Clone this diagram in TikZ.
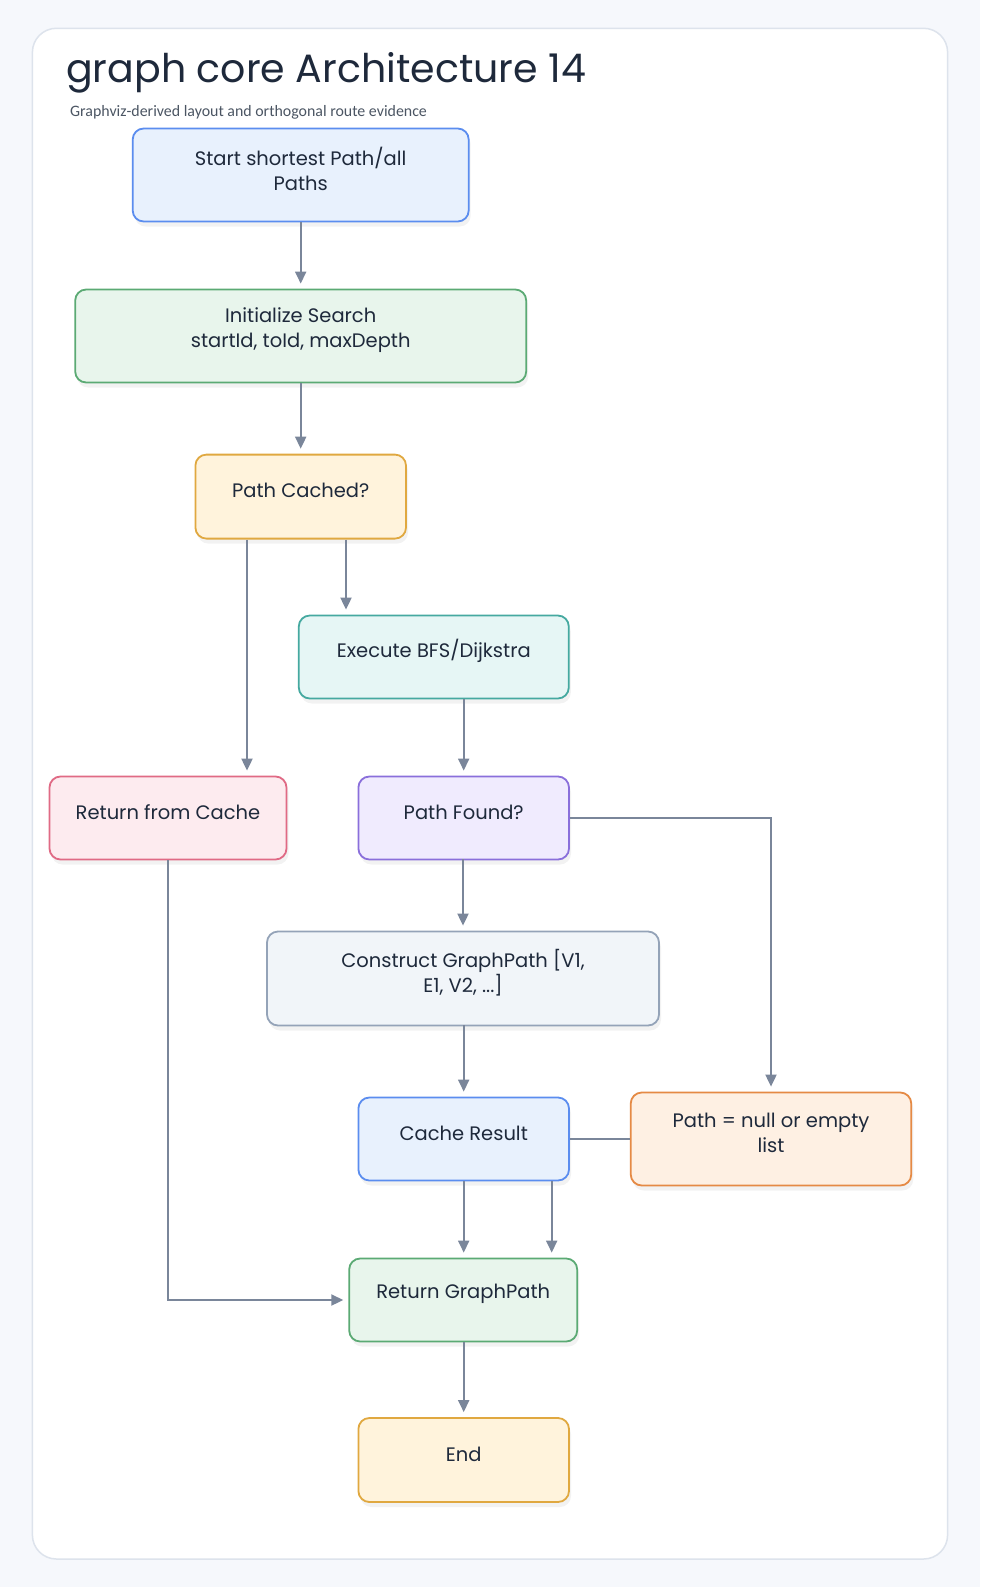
\documentclass[tikz,border=0pt]{standalone}
\usepackage{fontspec}
\setmainfont{Poppins}
\newfontfamily\subfont{Carlito}
\usetikzlibrary{arrows.meta,shadows}
\definecolor{bgc}{HTML}{F6F8FC}
\definecolor{panelb}{HTML}{DDE3EC}
\definecolor{txt}{HTML}{1E293B}
\definecolor{subtxt}{HTML}{4B5563}
\definecolor{edgec}{HTML}{7A869A}
\definecolor{bluef}{HTML}{E8F1FD}\definecolor{blued}{HTML}{5B8DEF}
\definecolor{greenf}{HTML}{E8F5EC}\definecolor{greend}{HTML}{5BAA74}
\definecolor{yelf}{HTML}{FFF3DC}\definecolor{yeld}{HTML}{E0A840}
\definecolor{tealf}{HTML}{E6F6F5}\definecolor{teald}{HTML}{45A9A0}
\definecolor{redf}{HTML}{FDEBEF}\definecolor{redd}{HTML}{E06A85}
\definecolor{purf}{HTML}{F0EBFE}\definecolor{purd}{HTML}{8A6FDB}
\definecolor{grayf}{HTML}{F1F5F9}\definecolor{grayd}{HTML}{94A3B8}
\definecolor{oraf}{HTML}{FEF0E3}\definecolor{orad}{HTML}{E58A45}
\tikzset{
  box/.style={draw, line width=1.8pt, rounded corners=11pt, inner sep=0pt,
    drop shadow={shadow xshift=2pt, shadow yshift=-5pt, opacity=0.05, fill=black}},
  lbl/.style={text=txt, font=\fontsize{19.5}{24.5}\selectfont, align=center, yshift=6pt},
  arr/.style={draw=edgec, line width=1.9pt, -{Triangle[length=12pt,width=11pt]}, shorten >=5pt},
  lnk/.style={draw=edgec, line width=1.9pt}
}
\begin{document}
\begin{tikzpicture}[x=1pt,y=-1pt]
\useasboundingbox (0,0) rectangle (980,1587);
\fill[bgc] (0,0) rectangle (980,1587);
\draw[panelb, line width=1.5pt, fill=white, rounded corners=24pt] (32.4,28.3) rectangle (947.6,1559);
\node[anchor=west, text=txt, font=\fontsize{39.5}{42}\selectfont, inner sep=0pt] (title) at (66,73) {graph core Architecture 14};
\node[anchor=west, text=subtxt, font=\subfont\fontsize{15.9}{17}\selectfont, inner sep=0pt] (subtitle) at (70,112.5) {Graphviz-derived layout and orthogonal route evidence};

\node[box, fill=bluef, draw=blued, minimum width=336pt, minimum height=93pt] (start) at (300.7,175) {};
\node[lbl] (startt) at (start.center) {Start shortest Path/all\\Paths};
\node[box, fill=greenf, draw=greend, minimum width=451pt, minimum height=93pt] (init) at (300.7,336) {};
\node[lbl] (initt) at (init.center) {Initialize Search\\startId, toId, maxDepth};
\node[box, fill=yelf, draw=yeld, minimum width=210.6pt, minimum height=84pt] (cached) at (300.7,496.6) {};
\node[lbl] (cachedt) at (cached.center) {Path Cached?};
\node[box, fill=tealf, draw=teald, minimum width=270pt, minimum height=83pt] (exec) at (433.8,657) {};
\node[lbl] (exect) at (exec.center) {Execute BFS/Dijkstra};
\node[box, fill=redf, draw=redd, minimum width=237pt, minimum height=83pt] (rfc) at (168,818) {};
\node[lbl] (rfct) at (rfc.center) {Return from Cache};
\node[box, fill=purf, draw=purd, minimum width=210.6pt, minimum height=83pt] (found) at (463.7,818) {};
\node[lbl] (foundt) at (found.center) {Path Found?};
\node[box, fill=grayf, draw=grayd, minimum width=392pt, minimum height=94pt] (constr) at (463,978.5) {};
\node[lbl] (constrt) at (constr.center) {Construct GraphPath [V1,\\E1, V2, ...]};
\node[box, fill=bluef, draw=blued, minimum width=210.6pt, minimum height=83pt] (cres) at (463.7,1139) {};
\node[lbl] (crest) at (cres.center) {Cache Result};
\node[box, fill=oraf, draw=orad, minimum width=280.5pt, minimum height=93pt] (null) at (771,1139) {};
\node[lbl] (nullt) at (null.center) {Path = null or empty\\list};
\node[box, fill=greenf, draw=greend, minimum width=228pt, minimum height=83pt] (retgp) at (463.2,1300) {};
\node[lbl] (retgpt) at (retgp.center) {Return GraphPath};
\node[box, fill=yelf, draw=yeld, minimum width=210.6pt, minimum height=84pt] (end) at (463.7,1460) {};
\node[lbl] (endt) at (end.center) {End};

\draw[arr] (start) -- (init);
\draw[arr] (init) -- (cached);
\draw[arr] ([xshift=-53.7pt]cached.south) -- ([xshift=-53.7pt]cached.south |- rfc.north);
\draw[arr] ([xshift=45.3pt]cached.south) -- ([xshift=45.3pt]cached.south |- exec.north);
\draw[arr] (found.north |- exec.south) -- (found.north);
\draw[arr] (found.south) -- (found.south -| constr.north) -- (constr.north);
\draw[arr] (found.east) -| (null.north);
\draw[arr] (constr.south) -- (constr.south -| cres.north) -- (cres.north);
\draw[lnk] (cres.east) -- (null.west);
\draw[arr] (cres.south) -- (cres.south |- retgp.north);
\draw[arr] ([xshift=88pt]cres.south) -- ([xshift=88pt]cres.south |- retgp.north);
\draw[arr] (rfc.south) |- (retgp.west);
\draw[arr] (retgp.south -| end.north) -- (end.north);
\end{tikzpicture}
\end{document}
